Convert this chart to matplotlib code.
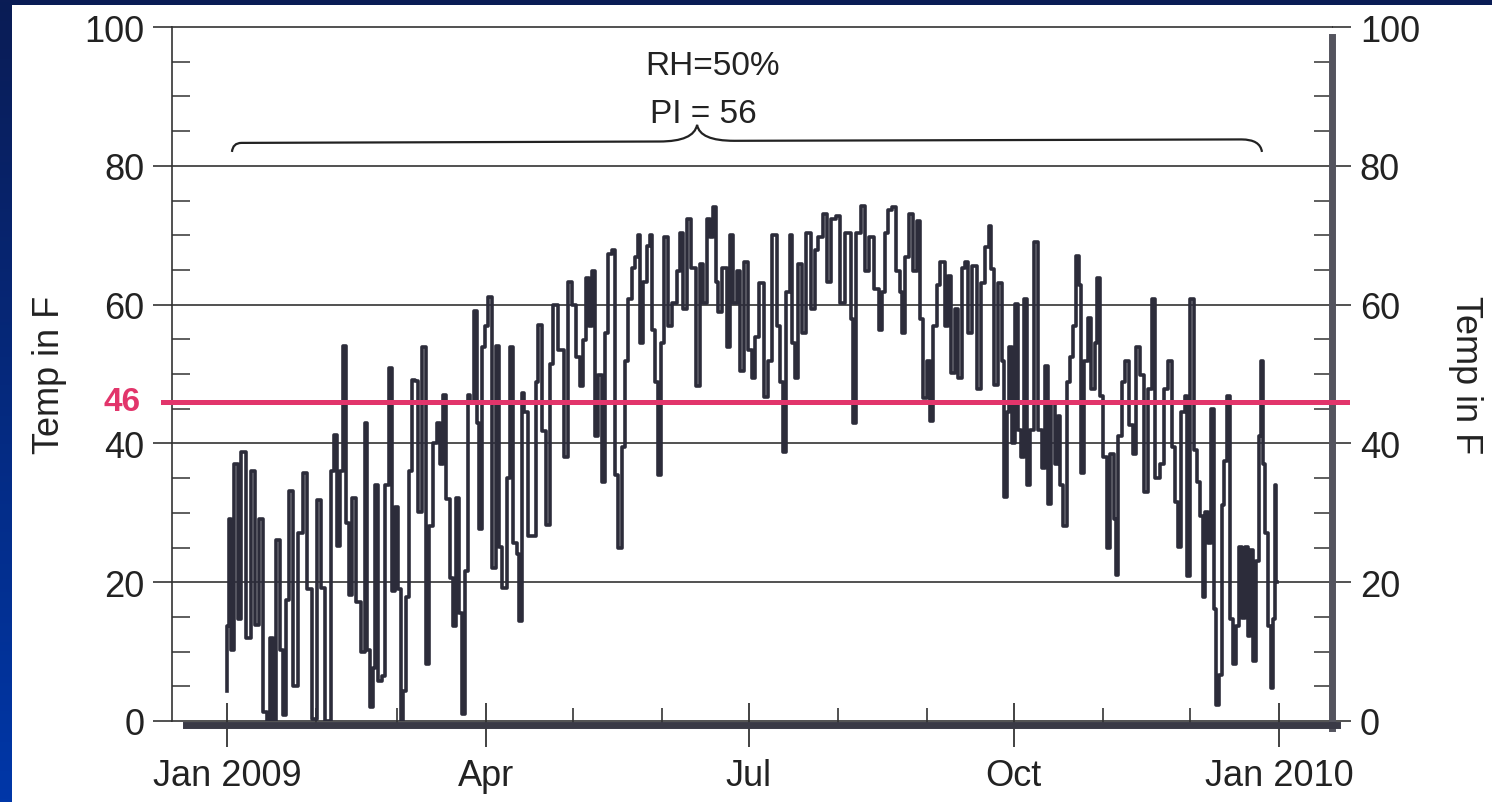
import numpy as np
import matplotlib
matplotlib.use("Agg")
import matplotlib.pyplot as plt
import matplotlib.dates as mdates
from matplotlib.path import Path
from matplotlib.patches import PathPatch, Rectangle
from matplotlib.ticker import MultipleLocator, FuncFormatter

# --------------------------------------------------
# Temperature record 2009
# day = days since 1 Jan 2009, temp in F
# --------------------------------------------------
day = [
    0.0, 0.3, 1.0, 1.6, 3.4, 4.0, 5.7, 7.4, 9.1, 10.6, 11.5, 13.2, 14.3, 15.5, 16.7,
    17.6, 19.0, 20.1, 21.0, 22.2, 23.6, 25.7, 26.8, 28.8, 30.5, 32.0, 33.4, 34.6,
    35.7, 36.5, 37.7, 38.6, 39.8, 40.9, 41.9, 42.7, 44.2, 45.6, 47.3, 48.1, 49.0,
    50.0, 51.1, 51.9, 53.1, 54.2, 55.4, 56.8, 57.7, 58.9, 60.0, 60.6, 61.8, 62.7,
    63.5, 64.7, 65.8, 67.0, 68.5, 69.6, 70.8, 72.2, 73.6, 74.5, 75.4, 76.8, 77.7,
    78.9, 80.0, 81.2, 82.0, 83.2, 84.0, 84.9, 86.3, 87.2, 87.8, 88.9, 90.1, 91.3,
    92.4, 94.1, 94.7, 96.4, 97.6, 98.8, 99.9, 101.1, 101.6, 102.8, 103.6, 105.1,
    106.8, 107.4, 108.6, 109.7, 111.5, 112.6, 113.8, 116.1, 117.8, 119.0, 120.5,
    121.9, 123.0, 124.2, 125.1, 126.3, 127.1, 128.0, 129.4, 130.6, 131.7, 132.9,
    134.0, 135.2, 136.3, 137.5, 138.7, 139.8, 141.0, 142.1, 142.9, 143.9, 145.0,
    146.2, 147.1, 147.9, 149.1, 150.2, 151.1, 152.3, 153.7, 155.4, 156.6, 157.7,
    158.9, 160.3, 161.8, 163.5, 164.7, 165.8, 167.0, 167.9, 169.1, 169.9, 171.0,
    172.8, 173.9, 175.1, 176.2, 177.4, 178.6, 180.3, 181.5, 182.6, 183.8,
    185.5, 187.2, 188.4, 190.1, 191.3, 192.5, 193.4, 194.8, 195.7, 196.5, 197.3,
    198.8, 200.3, 201.7, 203.4, 204.6, 205.8, 207.5, 208.9, 210.4, 212.1, 213.5,
    215.0, 216.2, 216.7, 217.7, 219.1, 220.8, 222.0, 223.7, 225.4, 226.9, 227.7,
    228.9, 230.0, 231.5, 232.9, 233.9, 234.4, 235.8, 237.6, 238.7, 239.9, 240.7,
    242.2, 243.3, 244.5, 245.7, 246.8, 248.3, 249.7, 250.5, 252.0, 253.2, 254.3,
    255.5, 256.6, 257.8, 259.5, 260.7, 262.4, 263.9, 264.7, 265.6, 266.5, 268.2,
    269.4, 269.9, 271.1, 271.7, 272.8, 274.0, 275.2, 276.0, 277.1,
    278.1, 279.2, 280.9, 282.1, 283.3, 284.4, 285.0, 286.7, 287.9, 288.5, 289.6,
    290.8, 291.9, 293.1, 294.2, 295.1, 295.8, 296.6, 298.1, 299.1, 300.6, 301.4,
    302.3, 303.5, 304.7, 305.8, 307.2, 308.1, 308.7, 309.9, 311.0, 312.2, 313.7,
    314.8, 316.2, 317.4, 319.1, 320.3, 321.4, 322.9, 324.3, 326.1, 327.2, 328.4,
    329.5, 330.3, 331.8, 332.8, 333.6, 335.0, 335.9, 337.0, 338.2, 339.1, 339.9,
    341.1, 341.9, 342.8, 343.8, 344.6, 345.7, 346.3, 347.5, 348.4, 349.5, 350.7,
    351.5, 352.7, 353.8, 354.6, 355.5, 356.7, 357.6, 358.4, 359.0, 359.9, 360.7,
    361.9, 362.5, 363.4, 363.9, 364.2,
]
temp_f = [
    4.3, 13.7, 29.1, 10.2, 37.0, 14.7, 38.8, 12.0, 36.0, 13.9, 29.1, 1.3, 0.0, 12.0, 0.0,
    26.1, 10.2, 0.8, 17.4, 33.1, 5.0, 27.1, 35.8, 19.0, 0.3, 31.8, 19.2, 0.0,
    0.0, 36.0, 41.2, 25.2, 36.0, 54.1, 28.6, 18.2, 32.1, 17.2, 10.0, 43.0, 10.2,
    2.0, 7.7, 34.0, 5.8, 6.5, 34.0, 50.9, 18.7, 30.8, 19.0, 0.0, 4.3, 17.9,
    36.0, 49.2, 49.0, 30.1, 53.9, 8.2, 28.1, 40.0, 43.0, 37.0, 47.0, 32.0, 20.6,
    13.7, 32.1, 15.5, 1.0, 21.6, 47.0, 46.0, 59.1, 43.0, 27.6, 53.9, 56.9, 61.1,
    22.1, 54.1, 25.1, 19.2, 35.0, 53.9, 25.6, 24.0, 14.4, 47.2, 44.5, 26.6,
    26.6, 48.9, 57.1, 41.8, 28.3, 51.4, 59.9, 53.4, 38.0, 63.3, 59.9,
    52.4, 48.2, 54.9, 63.8, 56.9, 64.8, 41.0, 49.9, 34.5, 55.9, 67.3,
    67.8, 35.5, 24.9, 39.5, 51.9, 60.8, 65.3, 66.8, 70.0, 54.4, 63.3,
    68.5, 70.0, 56.4, 48.9, 35.5, 54.4, 69.8, 56.9, 60.3, 64.8, 70.3,
    59.4, 72.3, 65.3, 48.2, 65.8, 60.3, 72.3, 69.8, 74.0, 63.3, 58.9,
    65.3, 53.9, 70.0, 60.3, 64.8, 50.4, 66.1, 53.4, 49.4, 55.4,
    63.1, 46.7, 51.9, 70.0, 56.9, 48.9, 38.8, 61.8, 70.0, 54.4, 49.4,
    65.8, 55.9, 70.3, 59.4, 67.8, 69.8, 73.0, 63.3, 72.3, 72.8, 60.3,
    70.3, 70.3, 57.9, 43.0, 70.3, 74.2, 64.8, 69.8, 62.3, 56.4, 61.8,
    70.3, 73.7, 74.0, 64.8, 61.8, 55.9, 66.8, 73.0, 64.8, 72.0, 57.9,
    46.5, 51.9, 43.2, 56.9, 62.8, 66.1, 56.9, 64.1, 50.2, 59.4, 49.4,
    65.3, 66.1, 55.9, 65.6, 47.9, 63.1, 68.3, 71.3, 65.1, 48.4, 63.1,
    51.9, 32.3, 44.5, 53.9, 40.0, 60.1, 42.0, 38.0, 60.8,
    34.0, 42.0, 69.0, 42.0, 36.5, 51.2, 31.3, 46.0, 37.0, 44.0, 34.0,
    28.1, 48.9, 52.4, 56.9, 67.0, 62.8, 35.8, 51.9, 58.1, 47.9, 54.4,
    63.8, 46.9, 38.0, 24.9, 38.5, 29.1, 21.1, 41.0, 48.9, 51.9, 42.6,
    38.5, 53.9, 49.9, 33.0, 47.9, 60.8, 35.0, 37.0, 47.9, 51.9, 39.5,
    31.6, 25.1, 44.5, 46.9, 20.9, 60.8, 39.0, 34.5, 29.6, 17.9, 30.1,
    25.6, 45.0, 16.2, 2.3, 6.7, 31.1, 37.5, 46.9, 14.7, 8.2, 13.7,
    25.1, 14.9, 25.1, 12.2, 24.6, 8.7, 23.1, 41.0, 51.9, 37.0, 27.1,
    13.7, 4.8, 14.7, 34.0, 20.0,
]

threshold = 46
notes = ["RH=50%", "PI = 56"]

start = np.datetime64("2009-01-01T00:00")
times = start + np.round(np.array(day) * 24 * 60).astype("timedelta64[m]")
t0 = mdates.date2num(start)

RED = "#e2356b"
INK = "#2c2c3a"

fig = plt.figure(figsize=(14.92, 8.03), dpi=100)

# blue slide background with the white page on top
bg = fig.add_axes([0, 0, 1, 1], zorder=-10)
grad = np.linspace(0, 1, 256).reshape(-1, 1)
cmap = matplotlib.colors.LinearSegmentedColormap.from_list("slide", ["#0a1c55", "#0037a8"])
bg.imshow(grad, aspect="auto", cmap=cmap, extent=[0, 1, 0, 1], origin="upper")
bg.axis("off")
fig.patches.append(Rectangle((12 / 1492, 0), 1480 / 1492, 797 / 803,
                             transform=fig.transFigure, facecolor="white",
                             edgecolor="none", zorder=-5))

plt.rcParams["font.family"] = ["Liberation Sans", "DejaVu Sans"]

ax = fig.add_axes([172 / 1492, 81 / 803, 1160 / 1492, 694 / 803])
ax.patch.set_alpha(0)

# recorder trace: vertical swings joined by short flat steps
ax.plot(times, temp_f, drawstyle="steps-mid", color=INK, linewidth=2.6, zorder=3)

# limits (in matplotlib date numbers)
ax.set_ylim(0, 100)
ax.set_xlim(t0 - 19.1, t0 + 383.4)

# x axis: quarters labelled, months as small ticks
ax.xaxis.set_major_locator(mdates.MonthLocator(bymonth=[1, 4, 7, 10]))
ax.xaxis.set_minor_locator(mdates.MonthLocator())
ax.xaxis.set_major_formatter(FuncFormatter(
    lambda v, pos: mdates.num2date(v).strftime("%b %Y" if mdates.num2date(v).month == 1 else "%b")))

# y axis on both sides
ax.yaxis.set_major_locator(MultipleLocator(20))
ax.yaxis.set_minor_locator(MultipleLocator(5))
ax.tick_params(axis="y", which="major", direction="out", length=14, width=1.1,
               left=True, right=True, labelleft=True, labelright=True,
               labelsize=26, pad=6, colors="#222222")
ax.tick_params(axis="y", which="minor", direction="in", length=13, width=1.1,
               left=True, right=True, color="#333333")
ax.tick_params(axis="x", which="major", direction="inout", length=31, width=1.2,
               labelsize=26, pad=8, colors="#222222")
ax.tick_params(axis="x", which="minor", direction="in", length=12, width=1.2,
               color="#333333")

ax.grid(axis="y", which="major", color="#333333", linewidth=1.2, zorder=1)
for gl in ax.yaxis.get_gridlines():
    gl.set_clip_on(False)

# spines: thin left, heavy bottom and right
ax.spines["top"].set_visible(False)
ax.spines["left"].set_linewidth(1.2)
ax.spines["left"].set_color("#333333")
ax.spines["bottom"].set_linewidth(5)
ax.spines["bottom"].set_color("#3a3a46")
ax.spines["bottom"].set_position(("outward", 3))
ax.spines["bottom"].set_bounds(t0 - 14.2, t0 + 385)
ax.spines["bottom"].set_zorder(5)
ax.spines["right"].set_linewidth(5)
ax.spines["right"].set_color("#54545e")
ax.spines["right"].set_bounds(-1, 98.6)

ax.set_ylabel("Temp in F", fontsize=26, color="#222222", labelpad=12)
fig.text(1465 / 1492, 1 - 375 / 803, "Temp in F", rotation=270, fontsize=26,
         color="#222222", ha="center", va="center")

# hand drawn threshold line
ax.axhline(threshold, xmin=-0.008, xmax=1.013, color=RED, linewidth=3.6,
           clip_on=False, zorder=4)
ax.text(-0.043, threshold, str(threshold), transform=ax.get_yaxis_transform(),
        color=RED, fontsize=24, fontweight="bold", ha="center", va="center")

# hand written notes with the curly brace
ax.text(0.466, 0.944, notes[0], transform=ax.transAxes, fontsize=24,
        color="#222222", ha="center", va="center")
ax.text(0.458, 0.875, notes[1], transform=ax.transAxes, fontsize=24,
        color="#222222", ha="center", va="center")

verts = [(t0 + 1.7, 82.0), (t0 + 2.0, 83.3), (t0 + 5.0, 83.3),
         (t0 + 150, 83.5), (t0 + 162, 83.5), (t0 + 163.1, 85.9),
         (t0 + 164, 83.6), (t0 + 176, 83.6), (t0 + 352, 83.8),
         (t0 + 358.5, 83.8), (t0 + 359.1, 82.0)]
codes = [Path.MOVETO, Path.CURVE3, Path.CURVE3, Path.LINETO, Path.CURVE3, Path.CURVE3,
         Path.CURVE3, Path.CURVE3, Path.LINETO, Path.CURVE3, Path.CURVE3]
ax.add_patch(PathPatch(Path(verts, codes), facecolor="none", edgecolor="#222222",
                       linewidth=1.6, zorder=4))

fig.savefig("out.png", dpi=100)
